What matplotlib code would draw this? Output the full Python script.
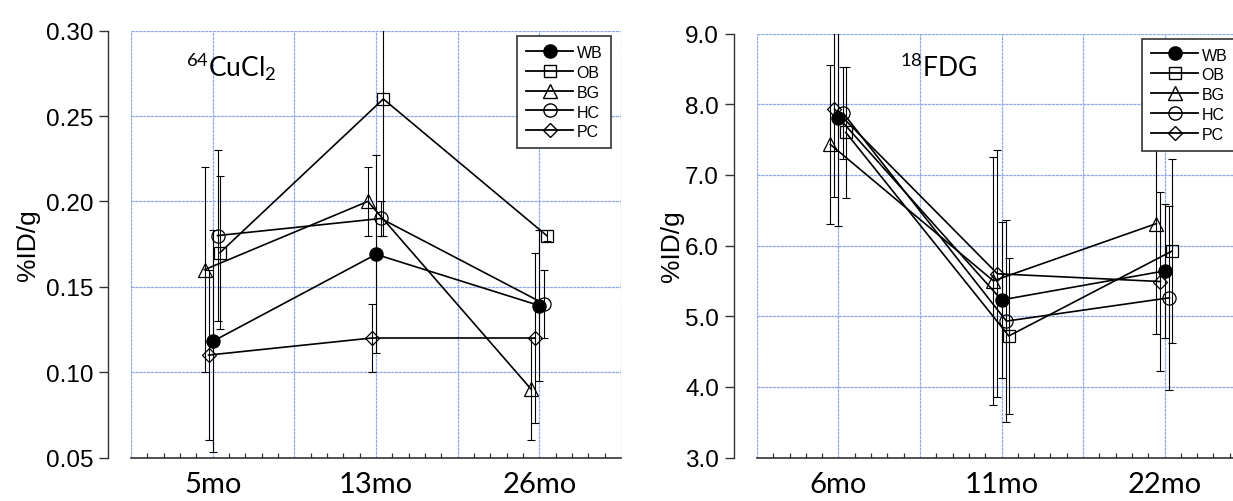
import matplotlib
matplotlib.use("Agg")
import matplotlib.pyplot as plt
from matplotlib.lines import Line2D
from matplotlib.ticker import FixedLocator, NullLocator

plt.rcParams['mathtext.fontset'] = 'custom'
plt.rcParams['mathtext.rm'] = 'Lato'
plt.rcParams['mathtext.it'] = 'Lato'

# ---------------- data ----------------
series = ["WB", "OB", "BG", "HC", "PC"]

cu_ages = ["5mo", "13mo", "26mo"]
cu_WB = [0.118, 0.169, 0.139]
cu_OB = [0.170, 0.260, 0.180]
cu_BG = [0.160, 0.200, 0.090]
cu_HC = [0.180, 0.190, 0.140]
cu_PC = [0.110, 0.120, 0.120]
cu_WB_err = [0.065, 0.058, 0.044]
cu_OB_err = [0.045, 0.080, 0.003]
cu_BG_err = [0.060, 0.020, 0.030]
cu_HC_err = [0.050, 0.010, 0.020]
cu_PC_err = [0.050, 0.020, 0.050]
cu_yticks = [0.05, 0.10, 0.15, 0.20, 0.25, 0.30]

fdg_ages = ["6mo", "11mo", "22mo"]
fdg_WB = [7.81, 5.23, 5.64]
fdg_OB = [7.60, 4.72, 5.92]
fdg_BG = [7.43, 5.50, 6.31]
fdg_HC = [7.87, 4.93, 5.26]
fdg_PC = [7.93, 5.60, 5.49]
fdg_WB_err = [1.54, 1.10, 0.95]
fdg_OB_err = [0.93, 1.10, 1.30]
fdg_BG_err = [1.13, 1.75, 1.56]
fdg_HC_err = [0.65, 1.43, 1.30]
fdg_PC_err = [1.25, 1.75, 1.27]
fdg_yticks = [3.0, 4.0, 5.0, 6.0, 7.0, 8.0, 9.0]

# ---------------- styles ----------------
style = {
    "WB": dict(marker="o", ms=9.5, mfc="black", off=0.0),
    "OB": dict(marker="s", ms=8.5, mfc="none", off=0.09),
    "BG": dict(marker="^", ms=10, mfc="none", off=-0.10),
    "HC": dict(marker="o", ms=9.5, mfc="none", off=0.06),
    "PC": dict(marker="D", ms=6.8, mfc="none", off=-0.05),
}
cat_pos = [1, 3, 5]
GRID = "#8fa8ee"

W, H = 1233, 502
fig = plt.figure(figsize=(W / 100, H / 100), dpi=100)
ax1 = fig.add_axes([131 / W, (H - 458.5) / H, 490 / W, (458.5 - 31.7) / H])
ax2 = fig.add_axes([757 / W, (H - 458.5) / H, 489 / W, (458.5 - 34.5) / H])


def draw(ax, ages, vals, errs, yticks, fmt):
    ax.set_xlim(0, 6)
    ax.set_ylim(yticks[0], yticks[-1])
    for xv in range(0, 7):
        ax.axvline(xv, color=GRID, lw=0.9, ls=(0, (2.5, 0.6)), zorder=0)
    for yv in yticks[1:]:
        ax.axhline(yv, color=GRID, lw=0.9, ls=(0, (2.5, 0.6)), zorder=0)
    for name in series:
        st = style[name]
        xs = [p + st["off"] for p in cat_pos]
        ax.errorbar(xs, vals[name], yerr=errs[name], fmt="none", ecolor="black",
                    elinewidth=0.8, capsize=2.6, capthick=0.8, zorder=2)
        ax.plot(xs, vals[name], color="black", lw=1.2, marker=st["marker"],
                ms=st["ms"], mfc=st["mfc"], mec="black", mew=0.9, zorder=3,
                label=name)
    ax.spines["top"].set_visible(False)
    ax.spines["right"].set_visible(False)
    ax.spines["left"].set_position(("outward", 16.8))
    ax.spines["left"].set_linewidth(1.0)
    ax.spines["bottom"].set_linewidth(1.2)
    ax.spines["left"].set_color("#333333")
    ax.spines["bottom"].set_color("#333333")
    ax.set_yticks(yticks)
    ax.set_yticklabels([fmt.format(v) for v in yticks], fontfamily="Liberation Sans",
                       fontsize=17.5)
    ax.tick_params(axis="y", which="major", direction="out", length=6.5, width=1.0,
                   pad=4, color="#333333")
    ax.yaxis.set_minor_locator(NullLocator())
    ax.set_xticks(cat_pos)
    ax.set_xticklabels(ages, fontfamily="Lato", fontsize=21)
    ax.tick_params(axis="x", which="major", length=0, pad=10)
    minors = [k * 0.2 for k in range(31) if k % 5 != 0]
    ax.xaxis.set_minor_locator(FixedLocator(minors))
    ax.tick_params(axis="x", which="minor", direction="in", length=3.5, width=0.9,
                   color="#333333")
    ax.set_ylabel("%ID/g", fontfamily="Liberation Sans", fontsize=19, labelpad=4)

    handles = []
    for name in series:
        st = style[name]
        handles.append(Line2D([], [], color="black", lw=1.3, marker=st["marker"],
                              ms=st["ms"], mfc=st["mfc"], mec="black", mew=1.0))
    leg = ax.legend(handles, series, loc="upper right", bbox_to_anchor=(0.98, 0.988),
                    prop={"family": "Liberation Sans", "size": 11.5}, frameon=True,
                    fancybox=False, edgecolor="#333333", framealpha=1,
                    handlelength=3.0, handletextpad=0.2, labelspacing=0.3,
                    borderpad=0.55, borderaxespad=0, handleheight=0.9)
    leg.get_frame().set_linewidth(1.2)
    leg.set_zorder(10)
    return ax


cu_vals = dict(WB=cu_WB, OB=cu_OB, BG=cu_BG, HC=cu_HC, PC=cu_PC)
cu_errs = dict(WB=cu_WB_err, OB=cu_OB_err, BG=cu_BG_err, HC=cu_HC_err, PC=cu_PC_err)
fdg_vals = dict(WB=fdg_WB, OB=fdg_OB, BG=fdg_BG, HC=fdg_HC, PC=fdg_PC)
fdg_errs = dict(WB=fdg_WB_err, OB=fdg_OB_err, BG=fdg_BG_err, HC=fdg_HC_err, PC=fdg_PC_err)

draw(ax1, cu_ages, cu_vals, cu_errs, cu_yticks, "{:.2f}")
draw(ax2, fdg_ages, fdg_vals, fdg_errs, fdg_yticks, "{:.1f}")
ax2.yaxis.labelpad = 1

fig.text(186 / W, 1 - 77 / H, r"$^{64}$CuCl$_{2}$", fontfamily="Lato", fontsize=19,
         ha="left", va="baseline")
fig.text(900 / W, 1 - 77 / H, r"$^{18}$FDG", fontfamily="Lato", fontsize=19,
         ha="left", va="baseline")

fig.savefig("out.png", dpi=100)
